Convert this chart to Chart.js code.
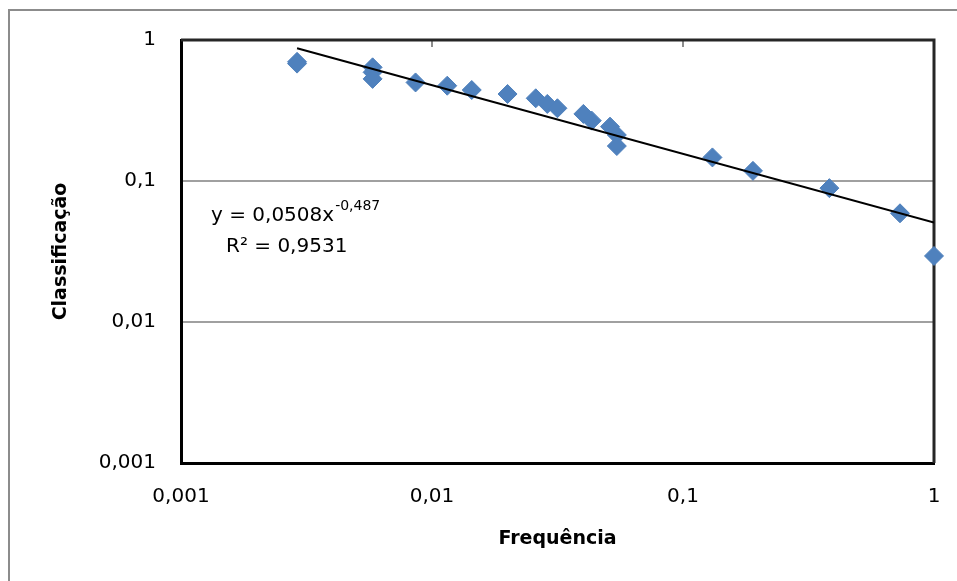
<!DOCTYPE html>
<html lang="pt">
<head>
    <meta charset="UTF-8">
    <title>Classificação x Frequência</title>
    <style>
        body { margin: 0; background: #fff; }
        #wrap { width: 957px; height: 581px; }
    </style>
</head>
<body>

<div id="wrap"><canvas id="myCanvas" width="957" height="581"></canvas></div>

<script src="https://cdn.jsdelivr.net/npm/chart.js@4/dist/chart.umd.min.js"></script>
<script>

// values
var frequencia = [0.0029, 0.0029, 0.0058, 0.0058, 0.0058, 0.0086, 0.0115, 0.0144, 0.020, 0.0259,
                  0.0288, 0.0316, 0.0401, 0.0433, 0.0512, 0.0545, 0.0545, 0.131, 0.190, 0.383,
                  0.732, 1.0];
var classificacao = [0.70, 0.68, 0.64, 0.59, 0.53, 0.50, 0.474, 0.442, 0.414, 0.386,
                     0.352, 0.328, 0.299, 0.268, 0.243, 0.212, 0.177, 0.147, 0.118, 0.089,
                     0.059, 0.0294];

// power trendline, ends as seen in the picture
var trendX = [0.0029, 1];
var trendY = [0.875, 0.0508];
var trendLabel = 'y = 0,0508x';
var trendExp = '-0,487';
var r2Label = 'R² = 0,9531';

var axisTicks = [0.001, 0.01, 0.1, 1];
var axisTickLabels = ['0,001', '0,01', '0,1', '1'];

var FONT = "'DejaVu Sans', sans-serif";

function tickLabel(v) {
    var i = axisTicks.findIndex(t => Math.abs(Math.log10(t) - Math.log10(v)) < 1e-6);
    return i < 0 ? '' : axisTickLabels[i];
}

function decades(scale) {
    scale.ticks = axisTicks.map(v => ({value: v}));
}

var frame = {
    id: 'frame',
    beforeDraw(chart) {
        var ctx = chart.ctx;
        ctx.save();
        ctx.fillStyle = '#fff';
        ctx.fillRect(0, 0, chart.width, chart.height);
        ctx.strokeStyle = '#8c8c8c';
        ctx.lineWidth = 2;
        ctx.beginPath();
        ctx.moveTo(9, chart.height + 5);
        ctx.lineTo(9, 10);
        ctx.lineTo(chart.width + 5, 10);
        ctx.stroke();
        ctx.restore();
    },
    beforeDatasetsDraw(chart) {
        var ctx = chart.ctx;
        var a = chart.chartArea;
        var xs = chart.scales.x;
        ctx.save();
        // small marks at the top edge
        ctx.strokeStyle = '#8c8c8c';
        ctx.lineWidth = 2;
        [0.01, 0.1].forEach(function (v) {
            var px = Math.round(xs.getPixelForValue(v));
            ctx.beginPath();
            ctx.moveTo(px, a.top);
            ctx.lineTo(px, a.top + 7);
            ctx.stroke();
        });
        // top and right edges of the plot area
        ctx.strokeStyle = '#262626';
        ctx.lineWidth = 3;
        ctx.beginPath();
        ctx.moveTo(a.left, a.top);
        ctx.lineTo(a.right, a.top);
        ctx.lineTo(a.right, a.bottom);
        ctx.stroke();
        ctx.restore();
    },
    afterDraw(chart) {
        var ctx = chart.ctx;
        var a = chart.chartArea;
        var x0 = a.left + 30;
        ctx.save();
        ctx.fillStyle = '#000';
        ctx.textBaseline = 'alphabetic';
        ctx.textAlign = 'left';
        ctx.font = '20px ' + FONT;
        ctx.fillText(trendLabel, x0, a.top + 181);
        var w = ctx.measureText(trendLabel).width;
        ctx.font = '14px ' + FONT;
        ctx.fillText(trendExp, x0 + w + 1, a.top + 170);
        ctx.font = '20px ' + FONT;
        ctx.fillText(r2Label, x0 + 15, a.top + 212);
        ctx.restore();
    }
};

var trend = trendX.map((x, i) => ({x: x, y: trendY[i]}));
var points = frequencia.map((x, i) => ({x: x, y: classificacao[i]}));

var chart = new Chart(document.getElementById('myCanvas'), {
    type: 'scatter',
    data: {
        datasets: [
            {
                type: 'line',
                label: 'Tendência',
                data: trend,
                borderColor: '#000',
                borderWidth: 2,
                pointRadius: 0,
                fill: false,
                showLine: true
            },
            {
                label: 'Classificação',
                data: points,
                pointStyle: 'rectRot',
                pointRadius: 9.5,
                pointBorderWidth: 1,
                backgroundColor: '#4F81BD',
                borderColor: '#4F81BD',
                clip: false
            }
        ]
    },
    options: {
        responsive: false,
        animation: false,
        devicePixelRatio: 1,
        layout: { padding: { left: 0, top: 40, right: 23, bottom: 0 } },
        plugins: {
            legend: { display: false },
            tooltip: { enabled: false }
        },
        scales: {
            x: {
                type: 'logarithmic',
                position: 'bottom',
                min: 0.001,
                max: 1,
                afterBuildTicks: decades,
                afterFit(scale) {
                    scale.height = 118;
                    scale.paddingLeft = 0;
                    scale.paddingRight = 6;
                },
                grid: { display: false, drawTicks: false },
                border: { display: true, color: '#000', width: 3 },
                ticks: {
                    autoSkip: false,
                    maxRotation: 0,
                    padding: 22,
                    color: '#000',
                    font: { family: FONT, size: 20 },
                    callback: tickLabel
                },
                title: {
                    display: true,
                    text: 'Frequência',
                    color: '#000',
                    font: { family: FONT, size: 19, weight: 'bold' },
                    padding: { top: 4, bottom: 31 }
                }
            },
            y: {
                type: 'logarithmic',
                position: 'left',
                min: 0.001,
                max: 1,
                afterBuildTicks: decades,
                afterFit(scale) { scale.width = 181; },
                grid: {
                    drawTicks: false,
                    color: '#a0a0a0',
                    lineWidth: 2
                },
                border: { display: true, color: '#000', width: 3 },
                ticks: {
                    autoSkip: false,
                    padding: 25,
                    color: '#000',
                    font: { family: FONT, size: 20 },
                    callback: tickLabel
                },
                title: {
                    display: true,
                    text: 'Classificação',
                    color: '#000',
                    font: { family: FONT, size: 19, weight: 'bold' },
                    padding: { top: 50, bottom: 4 }
                }
            }
        }
    },
    plugins: [frame]
});
</script>
</body>
</html>
